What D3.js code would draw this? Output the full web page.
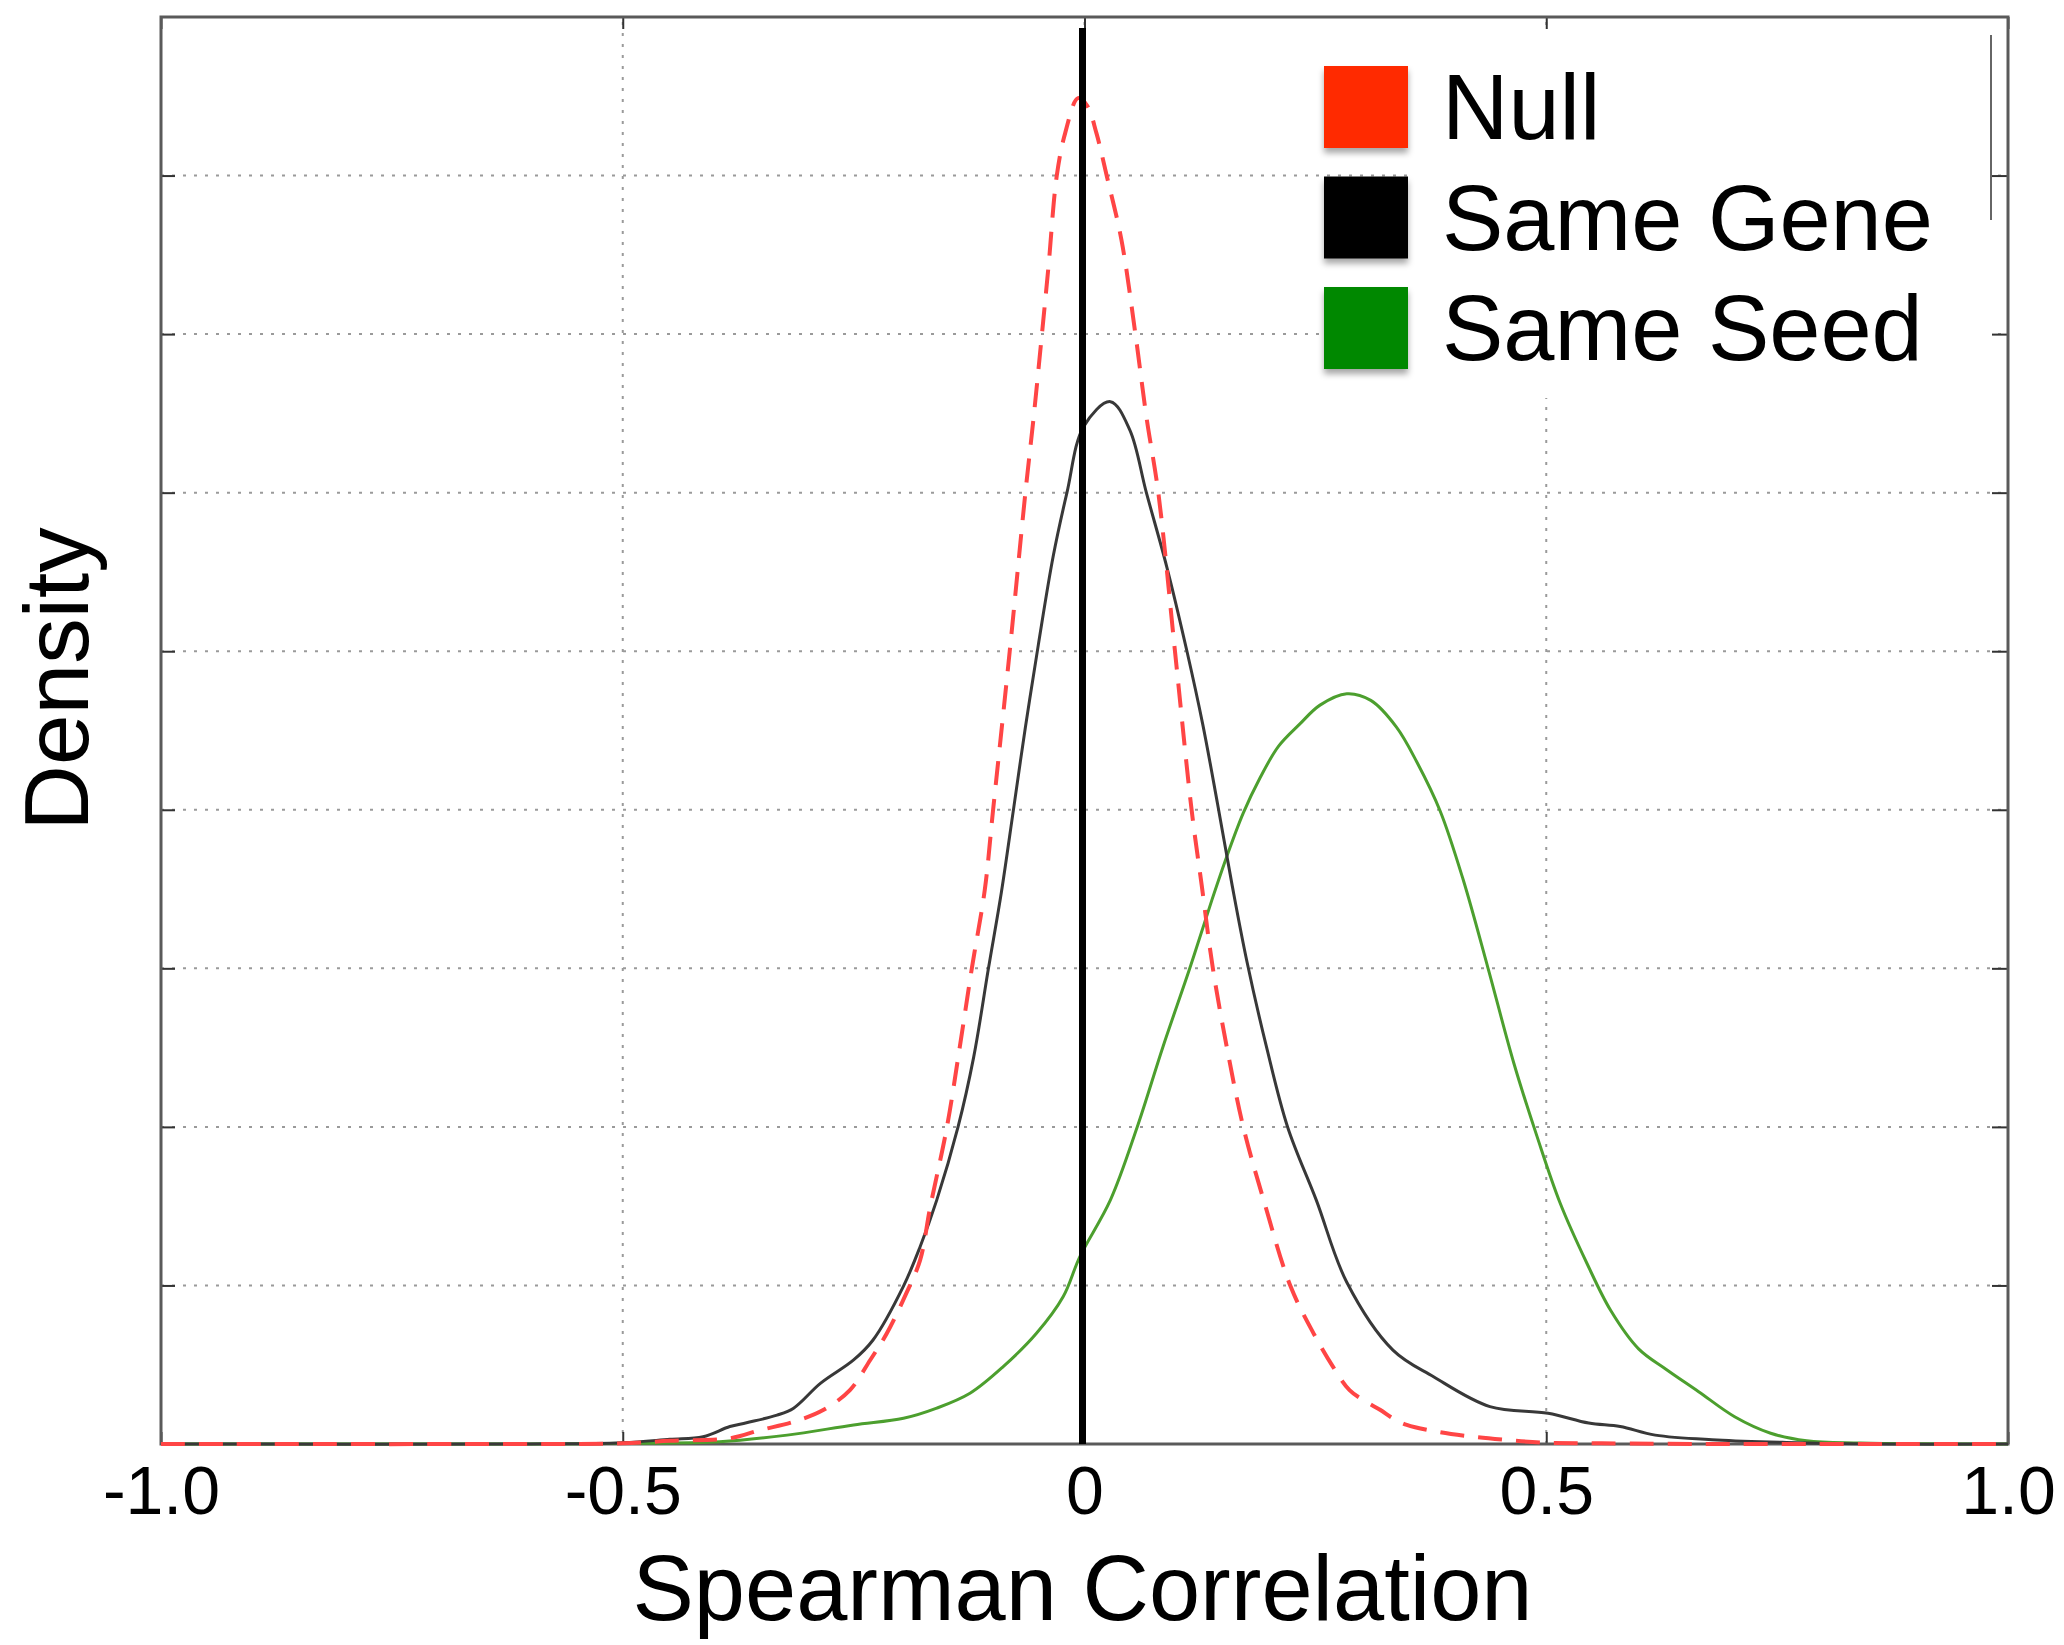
<!DOCTYPE html>
<html>
<head>
<meta charset="utf-8">
<script src="https://cdn.jsdelivr.net/npm/d3@7"></script>
<style>
  html, body { margin: 0; padding: 0; background: #fff; }
  svg { display: block; font-family: "Liberation Sans", Arial, Helvetica, sans-serif; }
</style>
</head>
<body>
<div id="chart"></div>
<script>
// data: [spearman r, density]
const xTicks = [-1.0, -0.5, 0, 0.5, 1.0];
const yGrid = [0.5, 1.0, 1.5, 2.0, 2.5, 3.0, 3.5, 4.0];

const nullDensity = [
  [-1.0, 0], [-0.6, 0], [-0.5, 0.002], [-0.449, 0.01], [-0.384, 0.018], [-0.351, 0.044],
  [-0.315, 0.07], [-0.283, 0.107], [-0.254, 0.17], [-0.232, 0.265], [-0.214, 0.349],
  [-0.193, 0.475], [-0.178, 0.58], [-0.167, 0.748], [-0.149, 0.999], [-0.135, 1.253],
  [-0.122, 1.5], [-0.108, 1.747], [-0.099, 1.999], [-0.081, 2.499], [-0.064, 3.0],
  [-0.055, 3.24], [-0.046, 3.503], [-0.039, 3.713], [-0.03, 4.0], [-0.021, 4.133],
  [-0.007, 4.244], [0.003, 4.22], [0.013, 4.133], [0.024, 4.0], [0.04, 3.797], [0.055, 3.503],
  [0.067, 3.24], [0.08, 2.998], [0.098, 2.499], [0.116, 1.999], [0.127, 1.76], [0.139, 1.5],
  [0.154, 1.253], [0.172, 0.999], [0.194, 0.769], [0.223, 0.498], [0.248, 0.349],
  [0.269, 0.244], [0.287, 0.17], [0.305, 0.133], [0.32, 0.108], [0.334, 0.081],
  [0.349, 0.06], [0.385, 0.037], [0.421, 0.023], [0.457, 0.013], [0.493, 0.005],
  [0.56, 0.002], [0.7, 0], [1.0, 0]
];

const sameGeneDensity = [
  [-1.0, 0], [-0.6, 0], [-0.5, 0.004], [-0.449, 0.015], [-0.413, 0.023], [-0.384, 0.055],
  [-0.366, 0.067], [-0.333, 0.091], [-0.315, 0.113], [-0.286, 0.191], [-0.25, 0.265],
  [-0.229, 0.328], [-0.196, 0.498], [-0.178, 0.622], [-0.16, 0.769], [-0.137, 0.999],
  [-0.12, 1.22], [-0.104, 1.5], [-0.09, 1.74], [-0.077, 1.999], [-0.064, 2.26],
  [-0.05, 2.52], [-0.034, 2.798], [-0.019, 3.0], [-0.001, 3.208], [0.028, 3.287],
  [0.049, 3.198], [0.067, 3.0], [0.089, 2.767], [0.111, 2.499], [0.128, 2.27],
  [0.144, 2.02], [0.16, 1.76], [0.176, 1.52], [0.197, 1.253], [0.22, 0.999],
  [0.251, 0.769], [0.284, 0.51], [0.334, 0.296], [0.378, 0.212], [0.439, 0.118],
  [0.502, 0.097], [0.546, 0.066], [0.58, 0.055], [0.618, 0.028], [0.685, 0.013],
  [0.76, 0.005], [0.85, 0], [1.0, 0]
];

const sameSeedDensity = [
  [-1.0, 0], [-0.6, 0], [-0.5, 0.002], [-0.395, 0.007], [-0.322, 0.028], [-0.25, 0.06],
  [-0.196, 0.081], [-0.16, 0.113], [-0.124, 0.16], [-0.088, 0.244], [-0.052, 0.349],
  [-0.023, 0.465], [-0.005, 0.591], [0.028, 0.769], [0.057, 0.999], [0.085, 1.253],
  [0.114, 1.5], [0.138, 1.716], [0.154, 1.852], [0.172, 1.99], [0.19, 2.1],
  [0.21, 2.2], [0.233, 2.27], [0.255, 2.33], [0.284, 2.366], [0.31, 2.345],
  [0.338, 2.26], [0.36, 2.15], [0.385, 1.997], [0.41, 1.78], [0.437, 1.5],
  [0.465, 1.2], [0.49, 0.97], [0.515, 0.76], [0.544, 0.57], [0.57, 0.42],
  [0.6, 0.3], [0.63, 0.235], [0.665, 0.165], [0.704, 0.086],
  [0.743, 0.034], [0.782, 0.01], [0.84, 0.003], [1.0, 0]
];

const legendLabels = ['Null', 'Same Gene', 'Same Seed'];
const legendColors = ['#ff2a00', '#000000', '#008800'];

const W = 2064, H = 1645;
const M = { left: 161, right: 56, top: 17, bottom: 201 };

const x = d3.scaleLinear().domain([-1, 1]).range([M.left, W - M.right]);
const y = d3.scaleLinear().domain([0, 4.5]).range([H - M.bottom, M.top]);

const svg = d3.select('#chart').append('svg')
  .attr('width', W).attr('height', H)
  .attr('viewBox', '0 0 ' + W + ' ' + H);

const defs = svg.append('defs');
const shadow = defs.append('filter').attr('id', 'shadow')
  .attr('x', '-20%').attr('y', '-20%').attr('width', '140%').attr('height', '150%');
shadow.append('feDropShadow')
  .attr('dx', 0).attr('dy', 5).attr('stdDeviation', 3)
  .attr('flood-color', '#000').attr('flood-opacity', 0.35);

// grid
svg.append('g')
  .selectAll('line')
  .data(yGrid)
  .enter().append('line')
  .attr('x1', x(-1)).attr('x2', x(1))
  .attr('y1', d => y(d)).attr('y2', d => y(d))
  .attr('stroke', '#9a9a9a').attr('stroke-width', 2)
  .attr('stroke-dasharray', '3,8');

svg.append('g')
  .selectAll('line')
  .data(xTicks.slice(1, -1))
  .enter().append('line')
  .attr('x1', d => x(d)).attr('x2', d => x(d))
  .attr('y1', y(0)).attr('y2', y(4.5))
  .attr('stroke', '#9a9a9a').attr('stroke-width', 2)
  .attr('stroke-dasharray', '3,8');

// legend background hides the grid behind the text
svg.append('rect')
  .attr('x', 1410).attr('y', 33)
  .attr('width', 582).attr('height', 365)
  .attr('fill', '#fff');
svg.append('line')
  .attr('x1', 1991).attr('x2', 1991).attr('y1', 35).attr('y2', 220)
  .attr('stroke', '#666').attr('stroke-width', 2);

// axes (ticks point inward, no y labels)
const tickStyle = g => {
  g.select('.domain').remove();
  g.selectAll('.tick line').attr('stroke', '#333').attr('stroke-width', 2);
};

svg.append('g')
  .attr('transform', 'translate(' + x(-1) + ',0)')
  .call(d3.axisLeft(y).tickValues(yGrid).tickSize(-14).tickFormat(''))
  .call(tickStyle);

svg.append('g')
  .attr('transform', 'translate(' + x(1) + ',0)')
  .call(d3.axisRight(y).tickValues(yGrid).tickSize(-16).tickFormat(''))
  .call(tickStyle);

svg.append('g')
  .attr('transform', 'translate(0,' + y(4.5) + ')')
  .call(d3.axisTop(x).tickValues(xTicks).tickSize(-12).tickFormat(''))
  .call(tickStyle);

const xAxis = svg.append('g')
  .attr('transform', 'translate(0,' + y(0) + ')')
  .call(d3.axisBottom(x).tickValues(xTicks).tickSize(-12).tickPadding(22)
    .tickFormat(d => d === 0 ? '0' : d.toFixed(1)))
  .call(tickStyle);
xAxis.selectAll('.tick text')
  .attr('fill', '#000')
  .style('font-size', '68px')
  .style('font-family', '"Liberation Sans", Arial, sans-serif');

// frame
svg.append('rect')
  .attr('x', x(-1)).attr('y', y(4.5))
  .attr('width', x(1) - x(-1)).attr('height', y(0) - y(4.5))
  .attr('fill', 'none').attr('stroke', '#5a5a5a').attr('stroke-width', 3);

// density curves
const line = d3.line()
  .x(d => x(d[0]))
  .y(d => y(Math.max(0, d[1])))
  .curve(d3.curveCatmullRom.alpha(0.5));

svg.append('path')
  .datum(sameSeedDensity)
  .attr('d', line)
  .attr('fill', 'none').attr('stroke', '#4c9f2e').attr('stroke-width', 3);

svg.append('path')
  .datum(sameGeneDensity)
  .attr('d', line)
  .attr('fill', 'none').attr('stroke', '#383838').attr('stroke-width', 3);

svg.append('path')
  .datum(nullDensity)
  .attr('d', line)
  .attr('fill', 'none').attr('stroke', '#ff4545').attr('stroke-width', 4)
  .attr('stroke-dasharray', '24,14');

// zero line
svg.append('line')
  .attr('x1', x(0) - 2).attr('x2', x(0) - 2)
  .attr('y1', 28).attr('y2', y(0))
  .attr('stroke', '#000').attr('stroke-width', 7);

// legend
const legend = svg.append('g')
  .selectAll('g')
  .data(legendLabels)
  .enter().append('g')
  .attr('transform', (d, i) => 'translate(1324,' + (66 + i * 110.5) + ')');

legend.append('rect')
  .attr('width', 84).attr('height', 82)
  .attr('fill', (d, i) => legendColors[i])
  .attr('filter', 'url(#shadow)');

legend.append('text')
  .attr('x', 118).attr('y', 73)
  .style('font-size', '92px')
  .attr('fill', '#000')
  .text(d => d);

// axis titles
svg.append('text')
  .attr('x', x(0) - 2).attr('y', 1620)
  .attr('text-anchor', 'middle')
  .style('font-size', '92px')
  .text('Spearman Correlation');

svg.append('text')
  .attr('transform', 'translate(88,' + 679 + ')rotate(-90)')
  .attr('text-anchor', 'middle')
  .style('font-size', '91px')
  .text('Density');
</script>
</body>
</html>
